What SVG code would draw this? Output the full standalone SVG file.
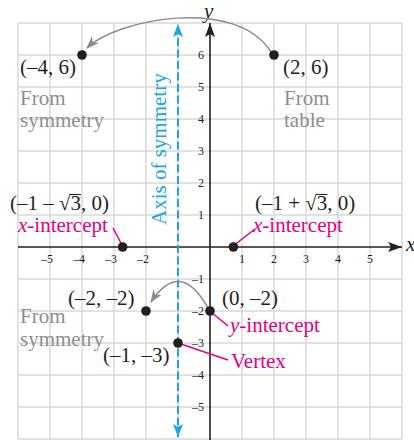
<svg xmlns="http://www.w3.org/2000/svg" width="414" height="440" viewBox="0 0 414 440">
<defs>
<style>
.grid line{stroke:#d9d9d9;stroke-width:1.5}
.axis{stroke:#231f20;stroke-width:1.6;fill:none}
.tick{font-family:"Liberation Serif",serif;font-size:12px;fill:#231f20}
.lbl{font-family:"Liberation Serif",serif;font-size:21px;fill:#231f20}
.gray{font-family:"Liberation Serif",serif;font-size:21px;fill:#8e8e8e}
.mag{font-family:"Liberation Serif",serif;font-size:21px;fill:#e5007d}
.ptr{stroke:#e5007d;stroke-width:1.5;fill:none}
.curve{stroke:#8a8a8a;stroke-width:1.5;fill:none}
.dot{fill:#231f20}
</style>
<marker id="ab" markerUnits="userSpaceOnUse" viewBox="0 0 14 10" markerWidth="14" markerHeight="10" refX="14" refY="5" orient="auto"><path d="M0,0 L14,5 L0,10 L3,5 z" fill="#231f20"/></marker>
<marker id="bl" markerUnits="userSpaceOnUse" viewBox="0 0 13 10" markerWidth="13" markerHeight="10" refX="13" refY="5" orient="auto-start-reverse"><path d="M0,0 L13,5 L0,10 L3,5 z" fill="#1ea5e0"/></marker>
<marker id="gr" markerUnits="userSpaceOnUse" viewBox="0 0 13 10" markerWidth="13" markerHeight="10" refX="12" refY="5" orient="auto"><path d="M0,0 L13,5 L0,10 L4,5 z" fill="#8a8a8a"/></marker>
</defs>
<g id="grid" class="grid">
<line x1="18" y1="23" x2="18" y2="439"/><line x1="50" y1="23" x2="50" y2="439"/><line x1="82" y1="23" x2="82" y2="439"/><line x1="114" y1="23" x2="114" y2="439"/><line x1="146" y1="23" x2="146" y2="439"/><line x1="178" y1="23" x2="178" y2="439"/><line x1="242" y1="23" x2="242" y2="439"/><line x1="274" y1="23" x2="274" y2="439"/><line x1="306" y1="23" x2="306" y2="439"/><line x1="338" y1="23" x2="338" y2="439"/><line x1="370" y1="23" x2="370" y2="439"/><line x1="402" y1="23" x2="402" y2="439"/>
<line x1="18" y1="23" x2="402" y2="23"/><line x1="18" y1="55" x2="402" y2="55"/><line x1="18" y1="87" x2="402" y2="87"/><line x1="18" y1="119" x2="402" y2="119"/><line x1="18" y1="151" x2="402" y2="151"/><line x1="18" y1="183" x2="402" y2="183"/><line x1="18" y1="215" x2="402" y2="215"/><line x1="18" y1="279" x2="402" y2="279"/><line x1="18" y1="311" x2="402" y2="311"/><line x1="18" y1="343" x2="402" y2="343"/><line x1="18" y1="375" x2="402" y2="375"/><line x1="18" y1="407" x2="402" y2="407"/><line x1="18" y1="439" x2="402" y2="439"/>
</g>
<g id="axes">
<line class="axis" x1="18" y1="247" x2="402" y2="247" marker-end="url(#ab)"/>
<line class="axis" x1="210" y1="440" x2="210" y2="23" marker-end="url(#ab)"/>
<text x="406" y="251" class="lbl" font-style="italic">x</text>
<text x="204" y="18" class="lbl" font-style="italic" font-size="19">y</text>
</g>
<g id="ticks" class="tick">
<text x="53" y="263" text-anchor="end">–5</text><text x="85" y="263" text-anchor="end">–4</text><text x="117" y="263" text-anchor="end">–3</text><text x="149" y="263" text-anchor="end">–2</text>
<text x="242" y="263" text-anchor="middle">1</text><text x="274" y="263" text-anchor="middle">2</text><text x="306" y="263" text-anchor="middle">3</text><text x="338" y="263" text-anchor="middle">4</text><text x="370" y="263" text-anchor="middle">5</text>
<text x="204" y="59" text-anchor="end">6</text><text x="204" y="91" text-anchor="end">5</text><text x="204" y="123" text-anchor="end">4</text><text x="204" y="155" text-anchor="end">3</text><text x="204" y="187" text-anchor="end">2</text><text x="204" y="219" text-anchor="end">1</text>
<text x="204" y="283" text-anchor="end">–1</text><text x="204" y="315" text-anchor="end">–2</text><text x="204" y="347" text-anchor="end">–3</text><text x="204" y="379" text-anchor="end">–4</text><text x="204" y="411" text-anchor="end">–5</text>
</g>
<g id="axis-of-symmetry">
<line x1="178" y1="437" x2="178" y2="24" stroke="#1ea5e0" stroke-width="2" stroke-dasharray="8,3.5" marker-start="url(#bl)" marker-end="url(#bl)"/>
<text transform="translate(166,225) rotate(-90)" font-family="Liberation Serif,serif" font-size="21" fill="#1ea5e0">Axis of symmetry</text>
</g>
<g id="connectors">
<path class="curve" d="M271,52 C235,-5 115,20 87,48" marker-end="url(#gr)"/>
<path class="curve" d="M208,308 Q180,258 151,302" marker-end="url(#gr)"/>
<line class="ptr" x1="113" y1="228" x2="122" y2="245"/>
<line class="ptr" x1="233" y1="246" x2="255" y2="229"/>
<line class="ptr" x1="211" y1="312" x2="228" y2="326"/>
<line class="ptr" x1="178" y1="343" x2="228" y2="360"/>
</g>
<g id="p-4-6"><circle class="dot" cx="82" cy="55" r="4.8"/><text class="lbl" x="20" y="74">(–4, 6)</text><text class="gray" x="20" y="105">From</text><text class="gray" x="20" y="127">symmetry</text></g>
<g id="p2-6"><circle class="dot" cx="274" cy="55" r="4.8"/><text class="lbl" x="283" y="74">(2, 6)</text><text class="gray" x="284" y="105">From</text><text class="gray" x="284" y="127">table</text></g>
<g id="xint-left"><circle class="dot" cx="122.6" cy="247" r="4.8"/><text class="lbl" x="10" y="210">(–1 – √3, 0)</text><line x1="70" y1="194.5" x2="81" y2="194.5" stroke="#231f20" stroke-width="1"/><text class="mag" x="18" y="232"><tspan font-style="italic">x</tspan>-intercept</text></g>
<g id="xint-right"><circle class="dot" cx="233.4" cy="247" r="4.8"/><text class="lbl" x="255" y="210">(–1 + √3, 0)</text><line x1="316.5" y1="194.5" x2="327.5" y2="194.5" stroke="#231f20" stroke-width="1"/><text class="mag" x="253" y="232"><tspan font-style="italic">x</tspan>-intercept</text></g>
<g id="p-2-2"><circle class="dot" cx="146" cy="311" r="4.8"/><text class="lbl" x="68" y="305">(–2, –2)</text><text class="gray" x="20" y="323">From</text><text class="gray" x="20" y="346">symmetry</text></g>
<g id="yint"><circle class="dot" cx="210" cy="311" r="4.8"/><text class="lbl" x="222" y="305">(0, –2)</text><text class="mag" x="230" y="332"><tspan font-style="italic">y</tspan>-intercept</text></g>
<g id="vertex"><circle class="dot" cx="178" cy="343" r="4.8"/><text class="lbl" x="103" y="362">(–1, –3)</text><text class="mag" x="231" y="368">Vertex</text></g>
</svg>
